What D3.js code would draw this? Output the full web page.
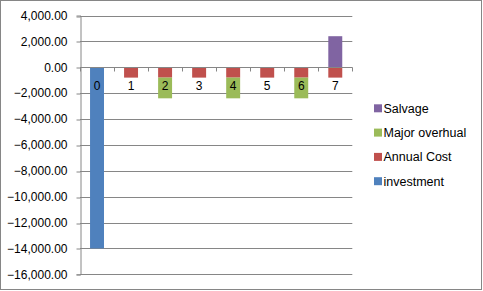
<!DOCTYPE html>
<html>
<head>
<meta charset="utf-8">
<script src="https://cdn.jsdelivr.net/npm/d3@7"></script>
<style>
  body { margin: 0; background: #fff; }
  text { font-family: "Liberation Sans", Arial, sans-serif; fill: #000; }
</style>
</head>
<body>
<div id="chart"></div>
<script>
const categories = ['0', '1', '2', '3', '4', '5', '6', '7'];
const investment = [-14000, 0, 0, 0, 0, 0, 0, 0];
const annualCost = [0, -800, -800, -800, -800, -800, -800, -800];
const majorOverhaul = [0, 0, -1600, 0, -1600, 0, -1600, 0];
const salvage = [0, 0, 0, 0, 0, 0, 0, 2400];
const yTicks = [4000, 2000, 0, -2000, -4000, -6000, -8000, -10000, -12000, -14000, -16000];

const series = [
  { key: 'investment', label: 'investment', color: '#4F81BD', values: investment },
  { key: 'annual', label: 'Annual Cost', color: '#C0504D', values: annualCost },
  { key: 'overhaul', label: 'Major overhual', color: '#9BBB59', values: majorOverhaul },
  { key: 'salvage', label: 'Salvage', color: '#8064A2', values: salvage },
];

const width = 483;
const height = 291;
const svg = d3.select('#chart')
  .append('svg')
  .attr('width', width)
  .attr('height', height);

// outer frame
svg.append('rect')
  .attr('x', 0.5).attr('y', 0.5)
  .attr('width', 481).attr('height', 289)
  .attr('fill', '#fff')
  .attr('stroke', '#868686');

const plot = { left: 80, right: 352.3, top: 15.5, bottom: 274.3 };

const y = d3.scaleLinear()
  .domain([-16000, 4000])
  .range([plot.bottom, plot.top]);

const x = d3.scaleBand()
  .domain(categories)
  .range([plot.left, plot.right])
  .paddingInner(0.59)
  .paddingOuter(0.295);

const rows = categories.map((c, i) => {
  const r = { cat: c };
  series.forEach((s) => { r[s.key] = s.values[i]; });
  return r;
});

const stacked = d3.stack()
  .keys(series.map((s) => s.key))
  .offset(d3.stackOffsetDiverging)(rows);

// gridlines
svg.append('g')
  .selectAll('line')
  .data(yTicks)
  .join('line')
  .attr('x1', plot.left)
  .attr('x2', plot.right)
  .attr('y1', (d) => Math.round(y(d)) + 0.5)
  .attr('y2', (d) => Math.round(y(d)) + 0.5)
  .attr('stroke', '#868686');

// y axis
const yAxis = svg.append('g')
  .attr('transform', `translate(${plot.left + 0.5},0)`)
  .call(d3.axisLeft(y).tickValues(yTicks).tickFormat(d3.format(',.2f')).tickSize(4).tickPadding(9));
yAxis.select('.domain').attr('stroke', '#868686');
yAxis.selectAll('.tick line').attr('stroke', '#868686')
  .attr('transform', (d) => `translate(0,${Math.round(y(d)) + 0.5 - y(d)})`);
yAxis.selectAll('.tick text')
  .style('font-size', '12px')
  .style('font-family', '"Liberation Sans", Arial, sans-serif')
  .attr('fill', '#000');

// bars
svg.append('g')
  .selectAll('g')
  .data(stacked)
  .join('g')
  .attr('fill', (d) => series.find((s) => s.key === d.key).color)
  .selectAll('rect')
  .data((d) => d)
  .join('rect')
  .attr('x', (d) => x(d.data.cat))
  .attr('width', x.bandwidth())
  .attr('y', (d) => y(Math.max(d[0], d[1])))
  .attr('height', (d) => Math.abs(y(d[0]) - y(d[1])));

// category axis at zero
const y0 = Math.round(y(0)) + 0.5;
svg.append('line')
  .attr('x1', plot.left).attr('x2', plot.right)
  .attr('y1', y0).attr('y2', y0)
  .attr('stroke', '#868686');
const step = x.step();
svg.append('g')
  .selectAll('line')
  .data(d3.range(categories.length + 1))
  .join('line')
  .attr('x1', (i) => Math.round(plot.left + i * step) + 0.5)
  .attr('x2', (i) => Math.round(plot.left + i * step) + 0.5)
  .attr('y1', y0)
  .attr('y2', y0 + 4)
  .attr('stroke', '#868686');

svg.append('g')
  .selectAll('text')
  .data(categories)
  .join('text')
  .attr('x', (d) => x(d) + x.bandwidth() / 2)
  .attr('y', y0 + 22)
  .attr('text-anchor', 'middle')
  .style('font-size', '12px')
  .text((d) => d);

// legend
const legend = svg.append('g')
  .selectAll('g')
  .data(series.slice().reverse())
  .join('g')
  .attr('transform', (d, i) => `translate(374,${108.3 + i * 24.3})`);
legend.append('rect')
  .attr('x', 0).attr('y', -4)
  .attr('width', 8).attr('height', 8)
  .attr('fill', (d) => d.color);
legend.append('text')
  .attr('x', 9.5)
  .attr('y', 4.5)
  .style('font-size', '12.5px')
  .text((d) => d.label);
</script>
</body>
</html>
